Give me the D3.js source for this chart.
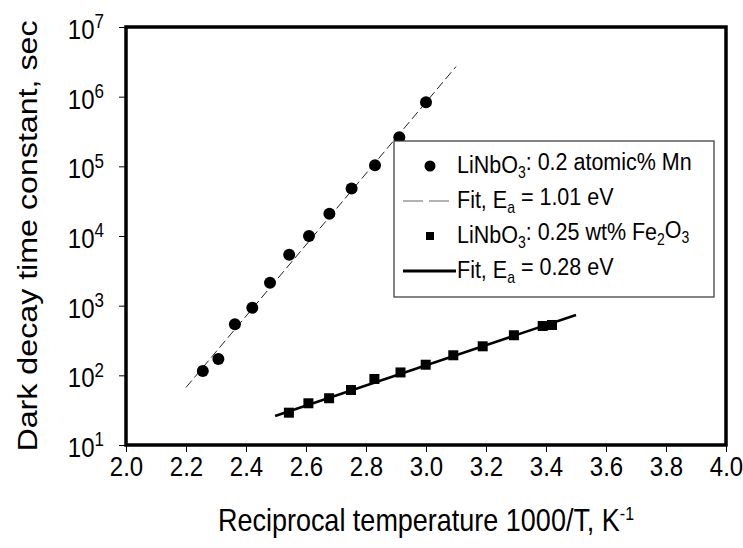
<!DOCTYPE html>
<html>
<head>
<meta charset="utf-8">
<script src="https://cdn.jsdelivr.net/npm/d3@7"></script>
<style>
  body { margin: 0; background: #fff; }
  svg { display: block; font-family: "Liberation Sans", Arial, sans-serif; }
</style>
</head>
<body>
<div id="chart"></div>
<script>
// data
const xTicks = [2.0, 2.2, 2.4, 2.6, 2.8, 3.0, 3.2, 3.4, 3.6, 3.8, 4.0];
const yExponents = [1, 2, 3, 4, 5, 6, 7];

// LiNbO3: 0.2 atomic% Mn (circles)
const mnX = [2.256, 2.308, 2.363, 2.421, 2.48, 2.544, 2.61, 2.678, 2.752, 2.83, 2.911, 3.0];
const mnTau = [115, 172, 540, 935, 2140, 5390, 10000, 20900, 48100, 103500, 261000, 830000];
// fit, Ea = 1.01 eV (dashed)
const mnFitX = [2.2, 3.1];
const mnFitTau = [67, 2.7e6];

// LiNbO3: 0.25 wt% Fe2O3 (squares)
const feX = [2.543, 2.608, 2.677, 2.75, 2.828, 2.915, 2.999, 3.091, 3.189, 3.293, 3.389, 3.42];
const feTau = [29.1, 39.7, 46.9, 61.6, 88.7, 110, 142, 194, 261, 376, 511, 528];
// fit, Ea = 0.28 eV (solid)
const feFitX = [2.497, 3.5];
const feFitTau = [26.1, 735];

// legend rows, each part is [text, isSubscript]
const legendRows = [
  { kind: "circle", parts: [["LiNbO", 0], ["3", 1], [": 0.2 atomic% Mn", 0]] },
  { kind: "dash",   parts: [["Fit, E", 0], ["a", 1], [" = 1.01 eV", 0]] },
  { kind: "square", parts: [["LiNbO", 0], ["3", 1], [": 0.25 wt% Fe", 0], ["2", 1], ["O", 0], ["3", 1]] },
  { kind: "solid",  parts: [["Fit, E", 0], ["a", 1], [" = 0.28 eV", 0]] }
];

const W = 743, H = 548;
const margin = { top: 27, left: 126, right: 17, bottom: 103 };
const width = W - margin.left - margin.right,
      height = H - margin.top - margin.bottom;
const stretch = 1.15; // the original text looks taller than it is wide

const svg = d3.select("#chart").append("svg")
  .attr("width", W)
  .attr("height", H);

const g = svg.append("g")
  .attr("transform", `translate(${margin.left},${margin.top})`);

const x = d3.scaleLinear().domain([2.0, 4.0]).range([0, width]);
const y = d3.scaleLog().domain([10, 1e7]).range([height, 0]);

// x axis
const xAxis = g.append("g")
  .attr("transform", `translate(0,${height})`)
  .call(d3.axisBottom(x).tickValues(xTicks).tickFormat(d3.format(".1f")).tickSize(7).tickPadding(3));
xAxis.select(".domain").remove();
xAxis.selectAll("line").attr("stroke", "#000").attr("stroke-width", 1);
xAxis.selectAll("text")
  .attr("fill", "#000")
  .attr("transform", `scale(1,${stretch})`)
  .style("font-size", "24px");

// y axis, labels as 10 with superscript
const yAxis = g.append("g")
  .call(d3.axisLeft(y).tickValues(yExponents.map(e => Math.pow(10, e))).tickSize(7).tickPadding(15).tickFormat(""));
yAxis.select(".domain").remove();
yAxis.selectAll("line").attr("stroke", "#000").attr("stroke-width", 1);
yAxis.selectAll(".tick").each(function(d, i) {
  const t = d3.select(this).select("text")
    .attr("fill", "#000")
    .attr("dy", "0.42em")
    .attr("transform", `scale(1,${stretch})`)
    .style("font-size", "24px");
  t.append("tspan").text("10");
  t.append("tspan").attr("dy", "-0.55em").style("font-size", "17px").text(yExponents[i]);
});

// frame
g.append("rect")
  .attr("x", 0).attr("y", 0)
  .attr("width", width).attr("height", height)
  .attr("fill", "none")
  .attr("stroke", "#000")
  .attr("stroke-width", 3.5);

// axis titles
svg.append("text")
  .attr("transform", `translate(${margin.left + width / 2},531) scale(1,${stretch})`)
  .attr("text-anchor", "middle")
  .style("font-size", "27px")
  .text("Reciprocal temperature 1000/T, K")
  .append("tspan")
  .attr("dy", "-0.6em")
  .style("font-size", "16px")
  .text("-1");

svg.append("text")
  .attr("transform", `translate(37,${margin.top + height / 2}) rotate(-90) scale(${stretch},1)`)
  .attr("text-anchor", "middle")
  .style("font-size", "28px")
  .text("Dark decay time constant, sec");

// fit lines
const line = d3.line().x(d => x(d[0])).y(d => y(d[1]));

g.append("path")
  .datum(d3.zip(mnFitX, mnFitTau))
  .attr("d", line)
  .attr("fill", "none")
  .attr("stroke", "#222")
  .attr("stroke-width", 1)
  .attr("stroke-dasharray", "9,4");

g.append("path")
  .datum(d3.zip(feFitX, feFitTau))
  .attr("d", line)
  .attr("fill", "none")
  .attr("stroke", "#000")
  .attr("stroke-width", 2.5);

// points
g.selectAll(".mn")
  .data(d3.zip(mnX, mnTau))
  .enter().append("circle")
  .attr("class", "mn")
  .attr("cx", d => x(d[0]))
  .attr("cy", d => y(d[1]))
  .attr("r", 6)
  .attr("fill", "#000");

const sq = 10;
g.selectAll(".fe")
  .data(d3.zip(feX, feTau))
  .enter().append("rect")
  .attr("class", "fe")
  .attr("x", d => x(d[0]) - sq / 2)
  .attr("y", d => y(d[1]) - sq / 2)
  .attr("width", sq)
  .attr("height", sq)
  .attr("fill", "#000");

// legend
const lg = svg.append("g").attr("transform", "translate(394,141)");
lg.append("rect")
  .attr("width", 320).attr("height", 156)
  .attr("fill", "#fff")
  .attr("stroke", "#333")
  .attr("stroke-width", 1.2);

legendRows.forEach((row, i) => {
  const cy = 25 + i * 35;
  if (row.kind === "circle") {
    lg.append("circle").attr("cx", 36).attr("cy", cy).attr("r", 5.5).attr("fill", "#000");
  } else if (row.kind === "square") {
    lg.append("rect").attr("x", 32).attr("y", cy - 4).attr("width", 8).attr("height", 8).attr("fill", "#000");
  } else if (row.kind === "dash") {
    lg.append("line").attr("x1", 9).attr("x2", 57).attr("y1", cy).attr("y2", cy)
      .attr("stroke", "#999").attr("stroke-width", 1.3).attr("stroke-dasharray", "20,6");
  } else {
    lg.append("line").attr("x1", 9).attr("x2", 62).attr("y1", cy).attr("y2", cy)
      .attr("stroke", "#000").attr("stroke-width", 3);
  }
  const t = lg.append("text")
    .attr("transform", `translate(63,${cy + 7}) scale(1,${stretch})`)
    .style("font-size", "21.5px");
  row.parts.forEach(([s, sub], k) => {
    if (sub) {
      t.append("tspan").attr("dy", "0.3em").style("font-size", "14px").text(s);
    } else {
      t.append("tspan").attr("dy", k ? "-0.3em" : 0).text(s);
    }
  });
});
</script>
</body>
</html>
